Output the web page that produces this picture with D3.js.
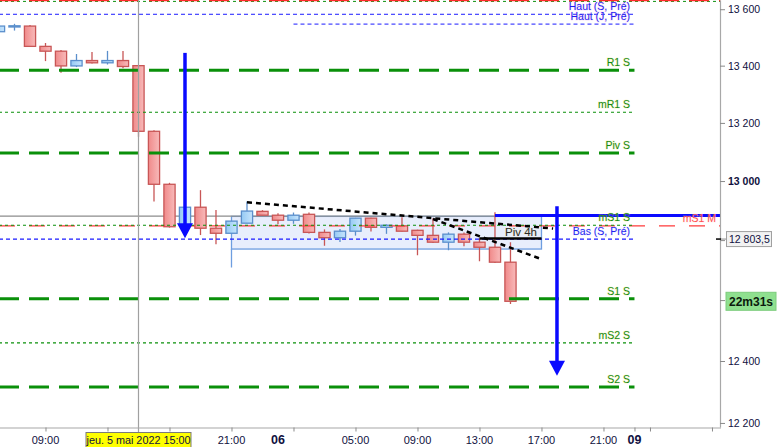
<!DOCTYPE html>
<html><head><meta charset="utf-8">
<script src="https://cdn.jsdelivr.net/npm/d3@7"></script>
<style>body{margin:0;background:#fff}svg{display:block}text{font-family:"Liberation Sans",Arial,sans-serif}</style>
</head><body><svg id="c" width="777" height="447"></svg>
<script>
// ---------- DATA ----------
const sessions = [{day:"2022-05-05", first:-6}, {day:"2022-05-06", first:18}, {day:"2022-05-09", first:41}];
const times = ["2022-05-05 06:00","2022-05-05 07:00","2022-05-05 08:00","2022-05-05 09:00","2022-05-05 10:00","2022-05-05 11:00","2022-05-05 12:00","2022-05-05 13:00","2022-05-05 14:00","2022-05-05 15:00","2022-05-05 16:00","2022-05-05 17:00","2022-05-05 18:00","2022-05-05 19:00","2022-05-05 20:00","2022-05-05 21:00","2022-05-05 22:00","2022-05-05 23:00","2022-05-06 00:00","2022-05-06 01:00","2022-05-06 02:00","2022-05-06 03:00","2022-05-06 04:00","2022-05-06 05:00","2022-05-06 06:00","2022-05-06 07:00","2022-05-06 08:00","2022-05-06 09:00","2022-05-06 10:00","2022-05-06 11:00","2022-05-06 12:00","2022-05-06 13:00","2022-05-06 14:00","2022-05-06 15:00"];
const opens  = [13520,13539,13540,13468,13451,13399,13418,13410,13418,13400,13171,12989,12849,12911,12840,12823,12857,12897,12884,12867,12887,12826,12808,12830,12874,12843,12848,12833,12816,12793,12820,12793,12776,12726];
const highs  = [13543,13548,13544,13480,13455,13441,13448,13452,13452,13402,13175,12994,12913,12969,12902,12864,12930,12901,12891,12893,12893,12836,12837,12875,12875,12853,12877,12835,12874,12826,12826,12806,12894,12793];
const lows   = [13518,13524,13467,13416,13375,13395,13408,13404,13391,13152,12930,12842,12845,12817,12786,12820,12857,12884,12853,12855,12822,12781,12794,12815,12829,12821,12829,12749,12790,12766,12779,12729,12723,12587];
const closes = [13540,13541,13468,13451,13399,13418,13410,13418,13397,13171,12989,12845,12911,12840,12823,12864,12898,12884,12867,12884,12826,12808,12830,12874,12843,12850,12830,12816,12793,12820,12793,12776,12726,12596];

const levelNames  = ["R1 S","mR1 S","Piv S","mS1 S","S1 S","mS2 S","S2 S"];
const levelValues = [13384,13237,13096,12850,12604,12459,12316];
const levelKinds  = ["major","minor","major","minor","major","minor","major"];
const hautS = 13582, hautJ = 13547, basS = 12803.5, mS1M = 12848;
const topRed = 13631, topGreen = 13628;
const crossPrice = 12881, blueLinePrice = 12883;
const piv4h = 12805;
const boxTop = 12880, boxBottom = 12770, boxStem = 12708;
const trendA = [["2022-05-05 22:00",12928],["2022-05-06 17:45",12839]];
const trendB = [["2022-05-06 10:00",12871],["2022-05-06 17:00",12736]];
const arrow1 = ["2022-05-05 18:00",13445,12806];
const arrow2 = ["2022-05-06 18:00",12914,12352];
const priceTicks = [12200,12400,12600,12800,13000,13200,13400,13600];
const hiddenTickLabels = [12600,12800];
const timeTicks = ["2022-05-05 09:00","2022-05-05 13:00","2022-05-05 17:00","2022-05-05 21:00","2022-05-06 01:00","2022-05-06 05:00","2022-05-06 09:00","2022-05-06 13:00","2022-05-06 17:00","2022-05-06 21:00","2022-05-09 00:00","2022-05-09 01:00","2022-05-09 05:00"];
const timeLabels = [["2022-05-05 09:00","09:00",false],["2022-05-05 21:00","21:00",false],["2022-05-06 00:00","06",true],["2022-05-06 05:00","05:00",false],["2022-05-06 09:00","09:00",false],["2022-05-06 13:00","13:00",false],["2022-05-06 17:00","17:00",false],["2022-05-06 21:00","21:00",false],["2022-05-09 00:00","09",true]];
const cursorTime = "2022-05-05 15:00", cursorText = "jeu. 5 mai 2022 15:00";
const timerText = "22m31s";

// ---------- helpers ----------
function slot(t){ const s = sessions.find(d=>d.day===t.slice(0,10)); return s.first + (+t.slice(11,13)) + (+t.slice(14,16))/60; }
const W = 720.5, H = 427;
const x = d3.scaleLinear().domain([0, 46.55]).range([-1, W]);
const y = d3.scaleLog().domain([12187, 13633]).range([H, 0]);
const X = t => x(slot(t));
const fmt = v => { const p = String(v).split("."); return p[0].replace(/\B(?=(\d{3})+(?!\d))/g," ") + (p[1] ? ","+p[1] : ""); };

const svg = d3.select("#c");
const defs = svg.append("defs");
const gr = defs.append("linearGradient").attr("id","gRed").attr("x1",0).attr("x2",1);
gr.append("stop").attr("offset",0).attr("stop-color","#f08a8a");
gr.append("stop").attr("offset",1).attr("stop-color","#f8baba");
const gb = defs.append("linearGradient").attr("id","gBlue").attr("x1",0).attr("x2",1);
gb.append("stop").attr("offset",0).attr("stop-color","#96caf4");
gb.append("stop").attr("offset",1).attr("stop-color","#c6e4fc");
defs.append("clipPath").attr("id","clip").append("rect").attr("x",0).attr("y",0).attr("width",W).attr("height",H+0.5);

const plot = svg.append("g").attr("clip-path","url(#clip)");

// box
const bx0 = X("2022-05-05 21:00"), bx1 = X("2022-05-06 17:00");
plot.append("rect").attr("x",bx0).attr("y",y(boxTop)).attr("width",bx1-bx0).attr("height",y(boxBottom)-y(boxTop))
  .attr("fill","#e8eefc").attr("stroke","#6e9ee0").attr("stroke-width",1.3);
plot.append("line").attr("x1",bx0).attr("x2",bx0).attr("y1",y(boxBottom)).attr("y2",y(boxStem)).attr("stroke","#6e9ee0").attr("stroke-width",1.3);

// crosshair
plot.append("line").attr("x1",0).attr("x2",W).attr("y1",y(crossPrice)).attr("y2",y(crossPrice)).attr("stroke","#8c8c8c").attr("stroke-width",1.2);
svg.append("line").attr("x1",X(cursorTime)).attr("x2",X(cursorTime)).attr("y1",0).attr("y2",432).attr("stroke","#a0a0a0").attr("stroke-width",1.2);

// candles
const cd = times.map((t,i)=>({t, o:opens[i], h:highs[i], l:lows[i], c:closes[i]}));
const cg = plot.append("g");
cg.selectAll("line.w").data(cd).join("line").attr("class","w")
  .attr("x1",d=>X(d.t)).attr("x2",d=>X(d.t)).attr("y1",d=>y(d.h)).attr("y2",d=>y(d.l))
  .attr("stroke",d=>d.c>=d.o?"#5b8fcc":"#c85656").attr("stroke-width",1.3);
cg.selectAll("rect.b").data(cd).join("rect").attr("class","b")
  .attr("x",d=>X(d.t)-5.6).attr("width",11.2)
  .attr("y",d=>y(Math.max(d.o,d.c))).attr("height",d=>Math.max(1.2,Math.abs(y(d.o)-y(d.c))))
  .attr("fill",d=>d.c>=d.o?"url(#gBlue)":"url(#gRed)")
  .attr("stroke",d=>d.c>=d.o?"#5b8fcc":"#c85656").attr("stroke-width",1.3);

// horizontal levels
const xL0 = x(0), xL1 = X("2022-05-09 00:00");
function hline(v, x0, x1, color, w, dash){
  plot.append("line").attr("x1",x0).attr("x2",x1).attr("y1",y(v)).attr("y2",y(v))
    .attr("stroke",color).attr("stroke-width",w).attr("stroke-dasharray",dash);
}
hline(topGreen, xL0, W, "#109010", 1, "3,3");
hline(topRed, xL0, W, "#ff2a2a", 1.6, "20,10");
hline(hautS, xL0, xL1, "#1a1aff", 1, "4,3");
hline(hautJ, X("2022-05-06 01:00"), xL1, "#1a1aff", 1, "4,3");
hline(basS, xL0, xL1, "#1a1aff", 1.2, "4,3");
hline(mS1M, xL0, W, "#ff3b3b", 1.3, "16,14");
levelValues.forEach((v,i)=>{
  if(levelKinds[i]==="major") hline(v, xL0, xL1, "#0a900a", 3, "20,10");
  else hline(v, xL0, xL1, "#0a900a", 1.2, "3,3");
});
// Piv 4h line
plot.append("line").attr("x1",X("2022-05-06 13:00")).attr("x2",bx1).attr("y1",y(piv4h)).attr("y2",y(piv4h)).attr("stroke","#000").attr("stroke-width",2.5);

// trend lines
[trendA, trendB].forEach(tl=>{
  plot.append("line").attr("x1",X(tl[0][0])).attr("y1",y(tl[0][1])).attr("x2",X(tl[1][0])).attr("y2",y(tl[1][1]))
    .attr("stroke","#000").attr("stroke-width",2.5).attr("stroke-dasharray","5,4");
});

// blue solid line
plot.append("line").attr("x1",X("2022-05-06 14:00")).attr("x2",W).attr("y1",y(blueLinePrice)).attr("y2",y(blueLinePrice)).attr("stroke","#0a0aff").attr("stroke-width",3);

// arrows
[arrow1, arrow2].forEach(a=>{
  const ax = X(a[0]), y0 = y(a[1]), yt = y(a[2]);
  plot.append("line").attr("x1",ax).attr("x2",ax).attr("y1",y0).attr("y2",yt-12).attr("stroke","#0a0aff").attr("stroke-width",3.5);
  plot.append("path").attr("d",`M${ax-8},${yt-15}L${ax+8},${yt-15}L${ax},${yt}Z`).attr("fill","#0a0aff");
});

// level labels
const LX = 630;
function label(txt, v, fill, halo, xr){
  plot.append("text").attr("x",xr||LX).attr("y",y(v)-4).attr("text-anchor","end").attr("font-size",10.5)
    .attr("fill",fill).attr("stroke",halo).attr("stroke-width",1.2).attr("paint-order","stroke").text(txt);
}
label("Haut (S, Pré)", hautS, "#1f1ff0", "rgba(235,170,235,0.35)");
label("Haut (J, Pré)", hautJ, "#1f1ff0", "rgba(235,170,235,0.35)");
levelNames.forEach((n,i)=>label(n, levelValues[i], "#138a13", "rgba(235,225,110,0.35)"));
label("Bas (S, Pré)", basS, "#1f1ff0", "rgba(210,210,255,0.35)");
label("mS1 M", mS1M, "#ff5050", "rgba(255,210,210,0.35)", 716);
plot.append("text").attr("x",537).attr("y",y(piv4h)-3).attr("text-anchor","end").attr("font-size",11.5)
  .attr("fill","#2a2a2a").attr("stroke","rgba(240,230,170,0.4)").attr("stroke-width",1.2).attr("paint-order","stroke").text("Piv 4h");

// right axis
const ar = svg.append("g").attr("transform","translate(720,0)")
  .call(d3.axisRight(y).tickValues(priceTicks).tickSize(5).tickSizeOuter(0).tickPadding(3)
    .tickFormat(v => hiddenTickLabels.includes(v) ? "" : fmt(v)));
ar.select(".domain").attr("stroke","#a8a8a8").attr("stroke-width",1.2);
ar.selectAll(".tick line").attr("stroke","#8a8a8a");
ar.selectAll(".tick text").attr("font-size",10.5).attr("fill","#101040").attr("font-family","Liberation Sans, Arial, sans-serif")
  .attr("font-weight",d=>d===13000?"bold":"normal");

// bottom axis
const ab = svg.append("g").attr("transform","translate(0,427.5)")
  .call(d3.axisBottom(x).tickValues(timeTicks.map(slot)).tickSize(4).tickSizeOuter(0).tickFormat(""));
ab.select(".domain").attr("stroke","#a8a8a8").attr("stroke-width",1.2).attr("d",`M0,0.5H${W+0.5}`);
ab.selectAll(".tick line").attr("stroke","#8a8a8a");
timeLabels.forEach(([t,txt,b])=>{
  svg.append("text").attr("x",X(t)).attr("y",443.5).attr("text-anchor","middle").attr("font-size",b?12.5:11)
    .attr("font-weight",b?"bold":"normal").attr("fill","#101040").text(txt);
});
// cursor label
const cx = X(cursorTime);
svg.append("rect").attr("x",cx-52.5).attr("y",432.5).attr("width",105).attr("height",16).attr("fill","#ffff00").attr("stroke","#7a7a7a");
svg.append("text").attr("x",cx).attr("y",443.5).attr("text-anchor","middle").attr("font-size",10.8).attr("fill","#101040").text(cursorText);

// price badges
const yb = y(basS);
svg.append("line").attr("x1",716).attr("x2",721).attr("y1",yb).attr("y2",yb).attr("stroke","#000").attr("stroke-width",1.5);
svg.append("line").attr("x1",721).attr("x2",726).attr("y1",yb).attr("y2",yb).attr("stroke","#8a8a8a");
svg.append("rect").attr("x",726.5).attr("y",yb-7.5).attr("width",45).attr("height",15).attr("fill","#f2f2f2").attr("stroke","#a0a0a0");
svg.append("text").attr("x",729).attr("y",yb+4).attr("font-size",10.5).attr("fill","#101040").text(fmt(basS));
const yc = y(closes[closes.length-1]);
svg.append("rect").attr("x",726).attr("y",yc-9).attr("width",50).attr("height",18).attr("fill","#8fe08f").attr("stroke","#7ccc7c");
svg.append("text").attr("x",751).attr("y",yc+4.5).attr("text-anchor","middle").attr("font-size",12).attr("font-weight","bold").attr("fill","#0c1a0c").text(timerText);
</script></body></html>
